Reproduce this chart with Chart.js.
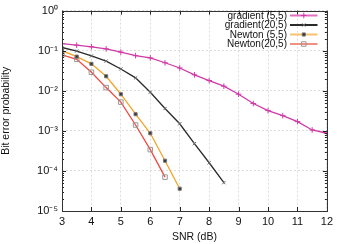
<!DOCTYPE html>
<html>
<head>
<meta charset="utf-8">
<script src="https://cdn.jsdelivr.net/npm/chart.js@4.4.1/dist/chart.umd.min.js"></script>
<style>
  html, body { margin: 0; padding: 0; background: #fff; }
  #wrap { width: 337px; height: 244px; }
</style>
</head>
<body>
<div id="wrap"><canvas id="ber"></canvas></div>
<script>
// SNR points (dB)
const snrGrad55 = [3, 3.5, 4, 4.5, 5, 5.5, 6, 6.5, 7, 7.5, 8, 8.5, 9, 9.5, 10, 10.5, 11, 11.5, 12];
const snrGrad20 = [3, 3.5, 4, 4.5, 5, 5.5, 6, 6.5, 7, 7.5, 8, 8.5];
const snrNewt55 = [3, 3.5, 4, 4.5, 5, 5.5, 6, 6.5, 7];
const snrNewt20 = [3, 3.5, 4, 4.5, 5, 5.5, 6, 6.5];

// bit error probability
const berGrad55 = [0.15, 0.137, 0.125, 0.111, 0.092, 0.075, 0.066, 0.05, 0.037, 0.025, 0.018, 0.013, 0.0082, 0.0048, 0.0032, 0.0024, 0.0017, 0.00105, 0.00087];
const berGrad20 = [0.12, 0.098, 0.074, 0.055, 0.035, 0.021, 0.0092, 0.0036, 0.0015, 0.00048, 0.00016, 0.000051];
const berNewt55 = [0.1, 0.071, 0.047, 0.023, 0.0082, 0.0026, 0.00087, 0.00018, 0.000036];
const berNewt20 = [0.079, 0.061, 0.029, 0.012, 0.0052, 0.0014, 0.00034, 0.00007];

const xTicks = [3, 4, 5, 6, 7, 8, 9, 10, 11, 12];
const yTicks = [1, 1e-1, 1e-2, 1e-3, 1e-4, 1e-5];
const yTickLabels = ['10⁰', '10⁻¹', '10⁻²', '10⁻³', '10⁻⁴', '10⁻⁵'];

const pts = (xs, ys) => xs.map((x, i) => ({ x: x, y: ys[i] }));

const FONT = 'Liberation Sans, Arial, sans-serif';

function marker(ctx, style, x, y, r, fill, stroke) {
  ctx.save();
  ctx.strokeStyle = stroke;
  ctx.fillStyle = fill;
  ctx.lineWidth = 1;
  ctx.beginPath();
  if (style === 'cross') {
    ctx.moveTo(x - r, y); ctx.lineTo(x + r, y);
    ctx.moveTo(x, y - r); ctx.lineTo(x, y + r);
    ctx.stroke();
  } else if (style === 'crossRot') {
    const d = r * 0.7;
    ctx.moveTo(x - d, y - d); ctx.lineTo(x + d, y + d);
    ctx.moveTo(x + d, y - d); ctx.lineTo(x - d, y + d);
    ctx.stroke();
  } else {
    const s = r / Math.SQRT2;
    ctx.rect(x - s, y - s, 2 * s, 2 * s);
    if (fill !== 'transparent') ctx.fill();
    ctx.stroke();
  }
  ctx.restore();
}

const framePlugin = {
  id: 'frame',
  afterDraw(chart) {
    const ctx = chart.ctx;
    const a = chart.chartArea;
    const xs = chart.scales.x, ys = chart.scales.y;
    ctx.save();
    ctx.strokeStyle = '#222';
    ctx.lineWidth = 1;
    // x ticks, bottom and top, inward
    ctx.beginPath();
    xTicks.forEach(v => {
      const px = Math.round(xs.getPixelForValue(v)) + 0.5;
      ctx.moveTo(px, a.bottom); ctx.lineTo(px, a.bottom - 4);
      ctx.moveTo(px, a.top); ctx.lineTo(px, a.top + 4);
    });
    // y major + minor ticks, left and right
    for (let k = 0; k >= -5; k--) {
      for (let m = 1; m <= 9; m++) {
        const v = m * Math.pow(10, k);
        if (v > 1 || v < 1e-5) continue;
        const len = m === 1 ? 4 : 2;
        const py = Math.round(ys.getPixelForValue(v)) + 0.5;
        ctx.moveTo(a.left, py); ctx.lineTo(a.left + len, py);
        ctx.moveTo(a.right, py); ctx.lineTo(a.right - len, py);
      }
    }
    ctx.stroke();
    // border
    ctx.strokeStyle = '#333';
    ctx.strokeRect(Math.round(a.left) + 0.5, Math.round(a.top) + 0.5,
      Math.round(a.right - a.left), Math.round(a.bottom - a.top));
    // legend, text right aligned with sample on the right
    ctx.font = '10px ' + FONT;
    ctx.textAlign = 'right';
    ctx.textBaseline = 'middle';
    chart.data.datasets.forEach((ds, i) => {
      const y = 15.5 + i * 9.5;
      ctx.fillStyle = '#111';
      ctx.fillText(ds.label, 287, y + 0.5);
      ctx.strokeStyle = ds.legendColor;
      ctx.lineWidth = 2;
      ctx.beginPath();
      ctx.moveTo(290, y); ctx.lineTo(317.5, y);
      ctx.stroke();
      marker(ctx, ds.pointStyle, 303.8, y, ds.pointRadius, ds.pointBackgroundColor, ds.pointBorderColor);
    });
    ctx.restore();
  }
};

new Chart(document.getElementById('ber'), {
  type: 'line',
  data: {
    datasets: [
      {
        label: 'gradient (5,5)',
        data: pts(snrGrad55, berGrad55),
        borderColor: '#d03aa6', legendColor: '#e070c0', borderWidth: 1.3,
        pointStyle: 'cross', pointRadius: 2.8,
        pointBorderColor: '#d03aa6', pointBackgroundColor: '#d03aa6', pointBorderWidth: 1
      },
      {
        label: 'gradient(20,5)',
        data: pts(snrGrad20, berGrad20),
        borderColor: '#2a2a2a', legendColor: '#2a2a2a', borderWidth: 1.3,
        pointStyle: 'crossRot', pointRadius: 2.3,
        pointBorderColor: '#666', pointBackgroundColor: '#666', pointBorderWidth: 1
      },
      {
        label: 'Newton (5,5)',
        data: pts(snrNewt55, berNewt55),
        borderColor: '#f5a42a', legendColor: '#f8c070', borderWidth: 1.3,
        pointStyle: 'rect', pointRadius: 2.2,
        pointBorderColor: '#777', pointBackgroundColor: '#333', pointBorderWidth: 1
      },
      {
        label: 'Newton(20,5)',
        data: pts(snrNewt20, berNewt20),
        borderColor: '#f04a40', legendColor: '#f29080', borderWidth: 1.3,
        pointStyle: 'rect', pointRadius: 3.2,
        pointBorderColor: '#999', pointBackgroundColor: 'transparent', pointBorderWidth: 1
      }
    ]
  },
  options: {
    responsive: true,
    maintainAspectRatio: false,
    animation: false,
    layout: { padding: { top: 8, right: 8, left: 0, bottom: 0 } },
    plugins: { legend: { display: false }, tooltip: { enabled: false } },
    scales: {
      x: {
        type: 'linear',
        min: 3, max: 12,
        afterBuildTicks: s => { s.ticks = xTicks.map(v => ({ value: v })); },
        afterFit: s => { s.height = 33; },
        grid: { color: '#d4d4d4', lineWidth: 0.8, drawTicks: false },
        border: { display: false, dash: [2, 2] },
        ticks: { padding: 4, color: '#111', font: { family: FONT, size: 11 }, maxRotation: 0 },
        title: { display: true, text: 'SNR (dB)', color: '#111', font: { family: FONT, size: 10.5 }, padding: { top: 0, bottom: 1 } }
      },
      y: {
        type: 'logarithmic',
        min: 1e-5, max: 1,
        afterBuildTicks: s => { s.ticks = yTicks.map(v => ({ value: v })); },
        afterFit: s => { s.width = 62; },
        grid: { color: '#d4d4d4', lineWidth: 0.8, drawTicks: false },
        border: { display: false, dash: [2, 2] },
        ticks: {
          padding: 4, color: '#111', font: { family: FONT, size: 11 },
          callback: v => { const i = yTicks.indexOf(v); return i >= 0 ? yTickLabels[i] : ''; }
        },
        title: { display: true, text: 'Bit error probability', color: '#111', font: { family: FONT, size: 10.5 }, padding: { top: 0, bottom: 0, left: 1 } }
      }
    }
  },
  plugins: [framePlugin]
});
</script>
</body>
</html>
